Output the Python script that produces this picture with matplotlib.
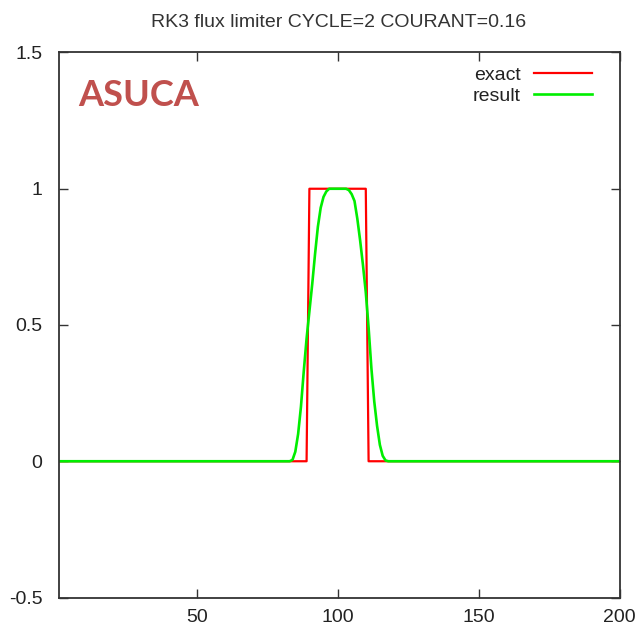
import matplotlib
matplotlib.use("Agg")
import matplotlib.pyplot as plt

# ---- data ----
exact_x = [1, 89, 90, 110, 111, 200]
exact_y = [0, 0, 1, 1, 0, 0]

result_x = [1, 82, 83, 84, 85, 86, 87, 88, 89, 90, 91, 92, 93, 94, 95, 96, 97,
            98, 99, 100, 101, 102, 103, 104, 105, 106, 107, 108, 109, 110, 111,
            112, 113, 114, 115, 116, 117, 118, 200]
result_y = [0, 0, 0.0, 0.005, 0.035, 0.10, 0.20, 0.33, 0.45, 0.55, 0.65, 0.76,
            0.86, 0.93, 0.97, 0.99, 1.0, 1.0, 1.0, 1.0, 1.0, 1.0, 1.0, 0.995,
            0.98, 0.955, 0.89, 0.81, 0.72, 0.62, 0.49, 0.34, 0.22, 0.13, 0.06,
            0.02, 0.003, 0, 0]

x_ticks = [50, 100, 150, 200]
y_ticks = [-0.5, 0, 0.5, 1, 1.5]
y_tick_labels = ["-0.5", "0", "0.5", "1", "1.5"]

title = "RK3 flux limiter CYCLE=2 COURANT=0.16"
series_labels = ["exact", "result"]
watermark = "ASUCA"

# ---- figure ----
W, H = 638, 629
fig = plt.figure(figsize=(W / 100, H / 100), dpi=100)
left, right, top, bottom = 58.5, 619.5, 52.5, 597.5
ax = fig.add_axes([left / W, 1 - bottom / H, (right - left) / W, (bottom - top) / H])

font = ["Liberation Sans", "DejaVu Sans"]
fs = 14

ax.plot(exact_x, exact_y, color="#ff0000", lw=1.6, label=series_labels[0])
ax.plot(result_x, result_y, color="#00ee00", lw=1.9, label=series_labels[1])

ax.set_xlim(1, 200)
ax.set_ylim(-0.5, 1.5)
ax.set_xticks(x_ticks)
ax.set_xticklabels([str(t) for t in x_ticks], family=font, fontsize=fs, color="#222222")
ax.set_yticks(y_ticks)
ax.set_yticklabels(y_tick_labels, family=font, fontsize=fs, color="#222222")

ax.tick_params(axis="both", direction="in", length=6.5, width=1.0, color="#333333",
               top=True, right=True)
ax.tick_params(axis="y", pad=11.5)
ax.tick_params(axis="x", pad=8.5)

for s in ax.spines.values():
    s.set_color("#333333")
    s.set_linewidth(1.3)

ax.set_title(title, family=font, fontsize=fs, color="#333333", pad=18)

leg = ax.legend(loc="upper right", bbox_to_anchor=(0.975, 1.0), markerfirst=False,
                frameon=False, handlelength=3.0, handletextpad=0.65,
                labelspacing=0.2, borderaxespad=0.3,
                prop={"family": font, "size": fs})
for t in leg.get_texts():
    t.set_color("#222222")

ax.text(78 / W, 1 - 106.5 / H, watermark, transform=fig.transFigure,
        family=["Lato", "DejaVu Sans"], fontweight="bold", fontsize=26,
        color="#c0504d", ha="left", va="baseline")

fig.savefig("out.png", dpi=100)
